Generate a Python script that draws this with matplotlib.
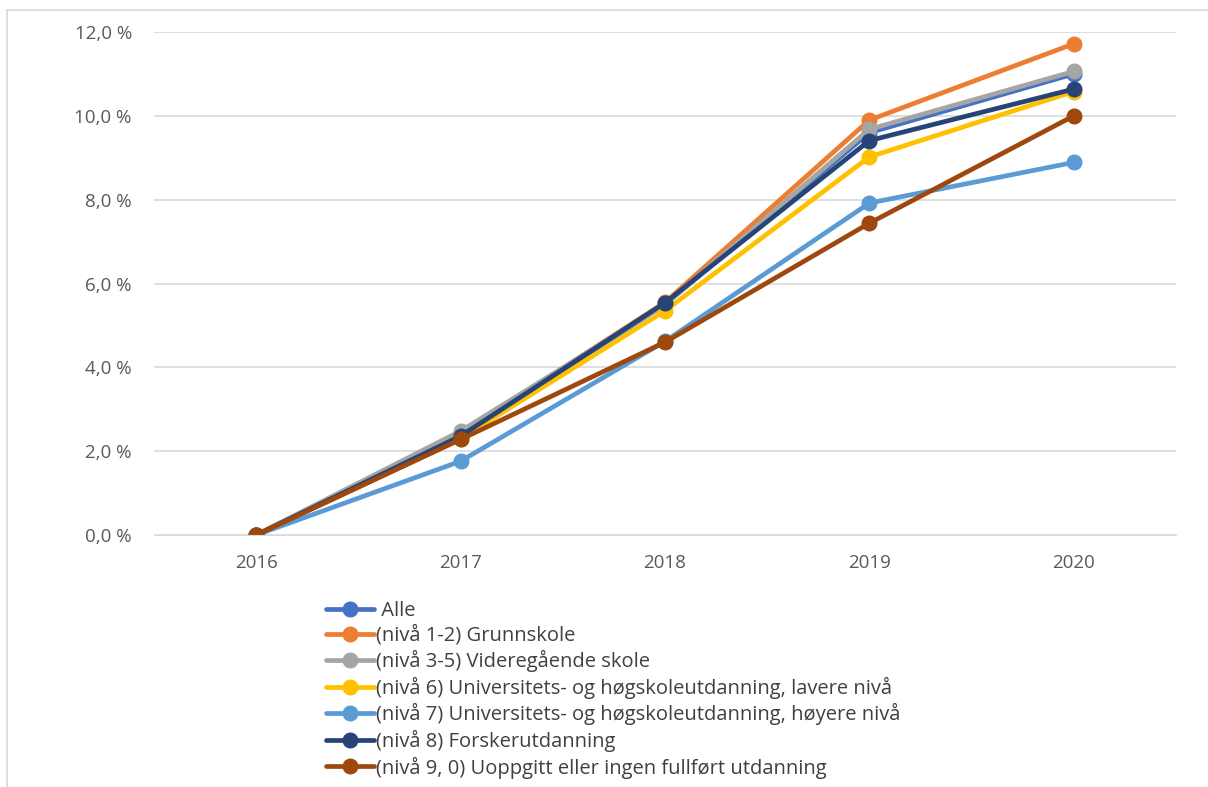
import matplotlib.pyplot as plt
from matplotlib.lines import Line2D
from matplotlib.ticker import FuncFormatter

plt.rcParams['font.family'] = ['Open Sans', 'DejaVu Sans']

years = ["2016", "2017", "2018", "2019", "2020"]

alle = [0.0, 2.38, 5.50, 9.60, 11.00]
grunnskole = [0.0, 2.42, 5.55, 9.90, 11.72]
videregaende = [0.0, 2.48, 5.50, 9.68, 11.06]
niva6 = [0.0, 2.30, 5.35, 9.02, 10.58]
niva7 = [0.0, 1.76, 4.62, 7.92, 8.89]
niva8 = [0.0, 2.36, 5.54, 9.41, 10.64]
niva9 = [0.0, 2.28, 4.60, 7.44, 10.00]

labels = [" Alle",
          "(nivå 1-2) Grunnskole",
          "(nivå 3-5) Videregående skole",
          "(nivå 6) Universitets- og høgskoleutdanning, lavere nivå",
          "(nivå 7) Universitets- og høgskoleutdanning, høyere nivå",
          "(nivå 8) Forskerutdanning",
          "(nivå 9, 0) Uoppgitt eller ingen fullført utdanning"]
series = [alle, grunnskole, videregaende, niva6, niva7, niva8, niva9]
colors = ["#4472C4", "#ED7D31", "#A5A5A5", "#FFC000", "#5B9BD5", "#264478", "#9E480E"]

fig = plt.figure(figsize=(12.08, 7.87), dpi=100)
ax = fig.add_axes([0.1275, 0.3202, 0.846, 0.6391])

# chart frame (only left and top edges are inside the picture)
fig.add_artist(Line2D([6.5 / 1208, 6.5 / 1208], [0, 1 - 9.5 / 787], color='#d9d9d9', lw=1.2))
fig.add_artist(Line2D([6.5 / 1208, 1], [1 - 9.5 / 787, 1 - 9.5 / 787], color='#d9d9d9', lw=1.2))

x = range(len(years))
for vals, lab, col in zip(series, labels, colors):
    ax.plot(x, vals, color=col, lw=3.4, marker='o', ms=10.5, label=lab, solid_capstyle='round')

ax.set_xlim(-0.5, 4.5)
ax.set_ylim(0, 12)
ax.set_yticks([0, 2, 4, 6, 8, 10, 12])
ax.yaxis.set_major_formatter(FuncFormatter(lambda v, p: f"{v:.1f} %".replace('.', ',')))
ax.set_xticks(list(x))
ax.set_xticklabels(years)
ax.grid(axis='y', color='#d9d9d9', lw=1.2)
ax.set_axisbelow(True)
for s in ['top', 'right', 'left']:
    ax.spines[s].set_visible(False)
ax.spines['bottom'].set_color('#d9d9d9')
ax.tick_params(length=0, labelsize=13.5, colors='#595959', pad=14)
ax.tick_params(axis='y', pad=16)

leg = ax.legend(loc='upper left', bbox_to_anchor=(0.16, -0.115), frameon=False,
                fontsize=14.5, handlelength=2.4, handletextpad=0.1,
                labelspacing=0.22, borderaxespad=0)
for t in leg.get_texts():
    t.set_color('#404040')

fig.savefig("out.png", dpi=100)
